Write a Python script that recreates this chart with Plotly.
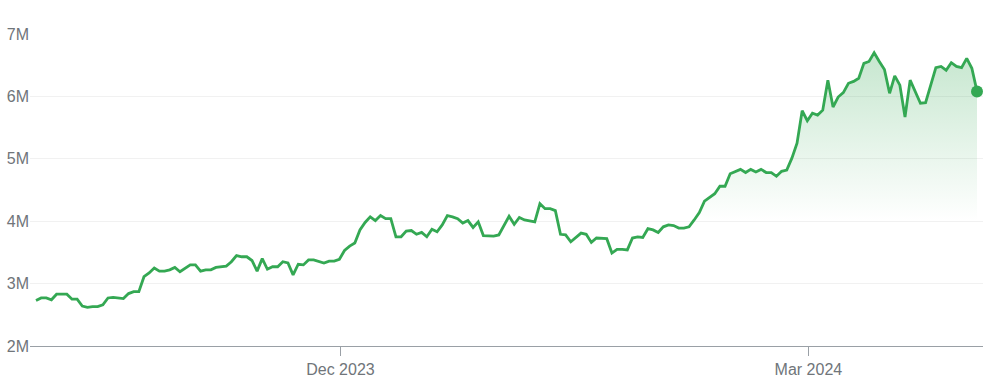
import pandas as pd
import plotly.graph_objects as go

# Daily values (millions), starting 2023-10-03
values = [
    2.73, 2.77, 2.77, 2.74, 2.83, 2.83, 2.83, 2.75, 2.75, 2.64,
    2.62, 2.63, 2.63, 2.66, 2.77, 2.78, 2.77, 2.76, 2.84, 2.87,
    2.87, 3.11, 3.17, 3.25, 3.20, 3.20, 3.22, 3.26, 3.19, 3.25,
    3.30, 3.30, 3.20, 3.22, 3.22, 3.26, 3.27, 3.28, 3.35, 3.45,
    3.43, 3.43, 3.37, 3.20, 3.40, 3.23, 3.27, 3.27, 3.35, 3.33,
    3.14, 3.31, 3.30, 3.38, 3.38, 3.35, 3.33, 3.36, 3.36, 3.39,
    3.53, 3.60, 3.65, 3.86, 3.98, 4.07, 4.01, 4.09, 4.04, 4.04,
    3.75, 3.75, 3.84, 3.85, 3.79, 3.82, 3.75, 3.87, 3.83, 3.94,
    4.09, 4.07, 4.04, 3.97, 4.01, 3.90, 3.99, 3.77, 3.76, 3.76,
    3.78, 3.94, 4.08, 3.95, 4.06, 4.02, 4.00, 3.99, 4.28, 4.20,
    4.20, 4.17, 3.79, 3.78, 3.67, 3.74, 3.81, 3.79, 3.66, 3.73,
    3.73, 3.72, 3.49, 3.55, 3.55, 3.54, 3.73, 3.75, 3.74, 3.88,
    3.86, 3.82, 3.91, 3.94, 3.93, 3.89, 3.89, 3.91, 4.02, 4.14,
    4.32, 4.38, 4.44, 4.56, 4.56, 4.76, 4.79, 4.83, 4.78, 4.83,
    4.79, 4.83, 4.78, 4.78, 4.72, 4.80, 4.82, 5.01, 5.25, 5.77,
    5.61, 5.73, 5.70, 5.78, 6.26, 5.83, 5.99, 6.06, 6.21, 6.24,
    6.29, 6.53, 6.56, 6.70, 6.56, 6.43, 6.05, 6.33, 6.18, 5.67,
    6.26, 6.08, 5.89, 5.90, 6.17, 6.46, 6.48, 6.42, 6.54, 6.48,
    6.46, 6.61, 6.45, 6.08,
]
dates = pd.date_range("2023-10-02 19:00", periods=len(values), freq="D")

y_tick_vals = [2, 3, 4, 5, 6, 7]
y_tick_text = ["2M", "3M", "4M", "5M", "6M", "7M"]
x_tick_vals = ["2023-12-01", "2024-03-01"]
x_tick_text = ["Dec 2023", "Mar 2024"]

GREEN = "#34a853"
LABEL = "#70757a"

fig = go.Figure()
fig.add_trace(go.Scatter(
    x=dates, y=values, mode="lines",
    line=dict(color=GREEN, width=2.8),
    fill="tozeroy",
    fillgradient=dict(
        type="vertical",
        colorscale=[[0, "rgba(52,168,83,0)"], [1, "rgba(52,168,83,0.28)"]],
        start=4.0, stop=6.7,
    ),
    hoverinfo="skip",
))
fig.add_trace(go.Scatter(
    x=[dates[-1]], y=[values[-1]], mode="markers",
    marker=dict(color=GREEN, size=12),
    cliponaxis=False,
    hoverinfo="skip",
))

fig.update_layout(
    width=997, height=382,
    margin=dict(l=30, r=14, t=34, b=36),
    paper_bgcolor="white", plot_bgcolor="white",
    showlegend=False,
    hovermode=False,
    font=dict(family="Arial, Liberation Sans, sans-serif", size=16, color=LABEL),
)
fig.update_xaxes(
    type="date", automargin=False,
    range=["2023-10-01 15:00", "2024-04-03 23:00"],
    tickvals=x_tick_vals, ticktext=x_tick_text,
    showgrid=False, zeroline=False,
    showline=True, linecolor="#9aa0a6", linewidth=1,
    ticks="outside", ticklen=9, tickcolor="#9aa0a6", tickwidth=1,
    tickfont=dict(size=16, color=LABEL),
)
fig.update_yaxes(
    automargin=False,
    range=[2, 7],
    tickvals=y_tick_vals, ticktext=y_tick_text,
    showgrid=True, gridcolor="#f1f1f1", gridwidth=1,
    zeroline=False, showline=False, ticks="",
    tickfont=dict(size=16, color=LABEL),
)

fig.write_html(
    "out.html",
    config={"displayModeBar": False, "staticPlot": True},
    post_script="document.body.style.margin='0';document.body.style.overflow='hidden';",
)
